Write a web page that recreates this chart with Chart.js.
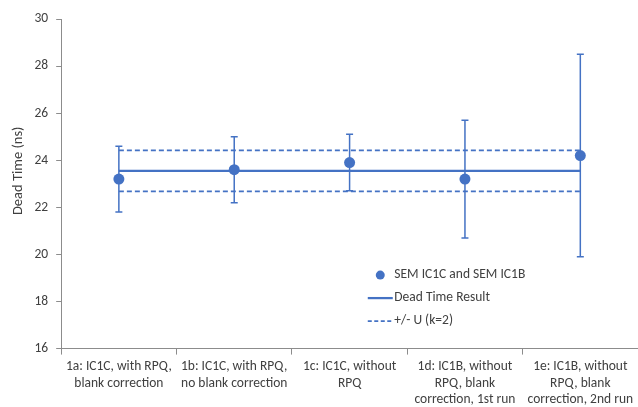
<!DOCTYPE html>
<html>
<head>
<meta charset="utf-8">
<script src="https://cdn.jsdelivr.net/npm/chart.js@4.4.1/dist/chart.umd.min.js"></script>
<style>
  html, body { margin: 0; padding: 0; background: #fff; }
  #wrap { width: 638px; height: 407px; }
</style>
</head>
<body>
<div id="wrap"><canvas id="chart" width="638" height="407"></canvas></div>
<script>
/*
Dead time per measurement run, with +/- U band
*/

// categories (multi-line labels)
const categories = [
  ['1a: IC1C, with RPQ,', 'blank correction'],
  ['1b: IC1C, with RPQ,', 'no blank correction'],
  ['1c: IC1C, without', 'RPQ'],
  ['1d: IC1B, without', 'RPQ, blank', 'correction, 1st run'],
  ['1e: IC1B, without', 'RPQ, blank', 'correction, 2nd run']
];

// measured dead time (ns) and error bar ends
const deadTime = [23.2, 23.6, 23.9, 23.2, 24.2];
const errLow   = [21.8, 22.2, 22.7, 20.7, 19.9];
const errHigh  = [24.6, 25.0, 25.1, 25.7, 28.5];

// overall result and +/- U (k=2)
const resultLine = [23.55, 23.55, 23.55, 23.55, 23.55];
const upperU     = [24.42, 24.42, 24.42, 24.42, 24.42];
const lowerU     = [22.68, 22.68, 22.68, 22.68, 22.68];

// y axis
const yMin = 16, yMax = 30, yStep = 2;
const yTitle = 'Dead Time (ns)';

// legend labels
const legendLabels = ['SEM IC1C and SEM IC1B', 'Dead Time Result', '+/- U (k=2)'];

const blue = '#4472c4';
const axisGray = '#8c8c8c';
const textGray = '#404040';
const fontFamily = 'Carlito, Calibri, Lato, "Liberation Sans", sans-serif';


// error bars drawn from the scales
const errorBars = {
  id: 'errorBars',
  beforeDatasetsDraw(chart) {
    const { ctx, scales: { x, y } } = chart;
    ctx.save();
    ctx.strokeStyle = blue;
    ctx.lineWidth = 1.5;
    deadTime.forEach((v, i) => {
      const px = x.getPixelForValue(i);
      const top = y.getPixelForValue(errHigh[i]);
      const bot = y.getPixelForValue(errLow[i]);
      ctx.beginPath();
      ctx.moveTo(px, top); ctx.lineTo(px, bot);
      ctx.moveTo(px - 3.5, top); ctx.lineTo(px + 3.5, top);
      ctx.moveTo(px - 3.5, bot); ctx.lineTo(px + 3.5, bot);
      ctx.stroke();
    });
    ctx.restore();
  }
};

// y axis title, sits a little above the plot centre like the original
const axisTitle = {
  id: 'axisTitle',
  afterDraw(chart) {
    const { ctx, chartArea: a } = chart;
    ctx.save();
    ctx.translate(18.5, (a.top + a.bottom) / 2 - 13);
    ctx.rotate(-Math.PI / 2);
    ctx.font = '14.5px ' + fontFamily;
    ctx.fillStyle = textGray;
    ctx.textAlign = 'center';
    ctx.textBaseline = 'middle';
    ctx.fillText(yTitle, 0, 0);
    ctx.restore();
  }
};

// legend inside the plot area
const innerLegend = {
  id: 'innerLegend',
  afterDraw(chart) {
    const { ctx, chartArea: a } = chart;
    const left = a.left + (a.right - a.left) * 0.5315;
    const top = a.top + (a.bottom - a.top) * 0.777;
    const rowH = 23;
    ctx.save();
    ctx.font = '13.5px ' + fontFamily;
    ctx.fillStyle = textGray;
    ctx.textBaseline = 'middle';
    legendLabels.forEach((label, i) => {
      ctx.fillText(label, left + 26.5, top + i * rowH);
    });

    // marker
    ctx.fillStyle = blue;
    ctx.beginPath();
    ctx.arc(left + 12.5, top, 4.5, 0, Math.PI * 2);
    ctx.fill();

    // solid line
    ctx.strokeStyle = blue;
    ctx.lineWidth = 2.25;
    ctx.beginPath();
    ctx.moveTo(left, top + rowH); ctx.lineTo(left + 25, top + rowH);
    ctx.stroke();

    // dashed line
    ctx.lineWidth = 1.75;
    ctx.setLineDash([4, 2.5]);
    ctx.beginPath();
    ctx.moveTo(left, top + 2 * rowH); ctx.lineTo(left + 25, top + 2 * rowH);
    ctx.stroke();
    ctx.restore();
  }
};


// chart
new Chart(document.getElementById('chart'), {
  type: 'line',
  data: {
    labels: categories,
    datasets: [
      {
        label: legendLabels[0],
        data: deadTime,
        showLine: false,
        pointRadius: 5.5,
        pointBackgroundColor: blue,
        pointBorderColor: blue,
        pointBorderWidth: 0,
        order: 0
      },
      {
        label: legendLabels[1],
        data: resultLine,
        borderColor: blue,
        borderWidth: 2.25,
        pointRadius: 0,
        order: 1
      },
      {
        label: legendLabels[2],
        data: upperU,
        borderColor: blue,
        borderWidth: 1.75,
        borderDash: [5, 3],
        pointRadius: 0,
        order: 2
      },
      {
        label: legendLabels[2],
        data: lowerU,
        borderColor: blue,
        borderWidth: 1.75,
        borderDash: [5, 3],
        pointRadius: 0,
        order: 2
      }
    ]
  },
  options: {
    responsive: false,
    animation: false,
    devicePixelRatio: 1,
    layout: { autoPadding: false, padding: { top: 19, right: 0, left: 26.5, bottom: -5 } },
    plugins: {
      legend: { display: false },
      tooltip: { enabled: false }
    },
    scales: {
      x: {
        offset: true,
        // let the last category run to the canvas edge
        afterFit(scale) {
          scale.paddingRight = 0;
        },
        grid: {
          offset: true,
          drawOnChartArea: false,
          drawTicks: true,
          tickLength: 6,
          color: axisGray
        },
        border: { color: axisGray, width: 1 },
        ticks: {
          maxRotation: 0,
          autoSkip: false,
          padding: 4,
          color: textGray,
          font: { family: fontFamily, size: 13.5, lineHeight: 1.22 }
        }
      },
      y: {
        min: yMin,
        max: yMax,
        ticks: {
          stepSize: yStep,
          padding: 8,
          color: textGray,
          font: { family: fontFamily, size: 13.5 }
        },
        grid: {
          drawOnChartArea: false,
          drawTicks: true,
          tickLength: 5,
          color: axisGray
        },
        border: { color: axisGray, width: 1 },
        title: { display: false }
      }
    }
  },
  plugins: [errorBars, axisTitle, innerLegend]
});
</script>
</body>
</html>
